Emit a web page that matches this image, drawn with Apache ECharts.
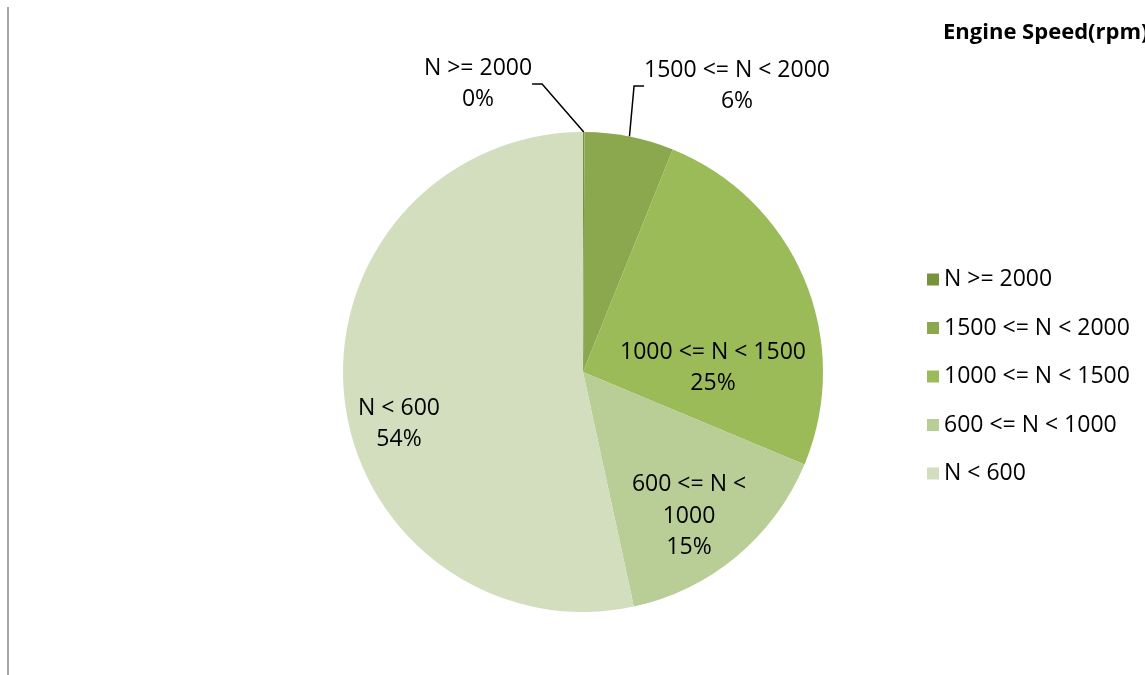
<!DOCTYPE html>
<html>
<head>
<meta charset="utf-8">
<script src="https://cdn.jsdelivr.net/npm/echarts@6/dist/echarts.min.js"></script>
<style>
html,body{margin:0;padding:0;background:#fff;overflow:hidden;}
#chart{width:1145px;height:675px;}
</style>
</head>
<body>
<div id="chart"></div>
<script>
const titleText = 'Engine Speed(rpm)';
const categories = ['N >= 2000', '1500 <= N < 2000', '1000 <= N < 1500', '600 <= N < 1000', 'N < 600'];
const labelTexts = ['N >= 2000', '1500 <= N < 2000', '1000 <= N < 1500', '600 <= N <\n1000', 'N < 600'];
const values = [0.1, 6.0, 25.2, 15.3, 53.4];
const percentLabels = ['0%', '6%', '25%', '15%', '54%'];
const colors = ['#77933C', '#8BA84E', '#9BBB59', '#B9CD96', '#D2DEBE'];

const FONT = '"Open Sans", sans-serif';
const labelPos = [[478, 84], [737, 86], [713, 368], [689, 516], [399, 424]];

const chart = echarts.init(document.getElementById('chart'));
chart.setOption({
  animation: false,
  backgroundColor: '#ffffff',
  title: {
    text: titleText,
    left: 938, top: 17,
    textStyle: {fontFamily: FONT, fontSize: 22, fontWeight: 'bold', color: '#000'}
  },
  legend: {
    orient: 'vertical',
    left: 922, top: 263,
    itemWidth: 12, itemHeight: 12,
    itemGap: 25.5,
    icon: 'rect',
    textStyle: {fontFamily: FONT, fontSize: 23, color: '#000', padding: [0,0,0,0]},
    data: categories
  },
  graphic: [{
    type: 'line', shape: {x1: 8, y1: 7, x2: 8, y2: 675},
    style: {stroke: '#888', lineWidth: 1.5}
  }],
  series: [{
    type: 'pie',
    center: [583, 372],
    radius: 240,
    startAngle: 90,
    clockwise: true,
    avoidLabelOverlap: false,
    percentPrecision: 0,
    itemStyle: {borderWidth: 0},
    emphasis: {disabled: true},
    label: {
      fontFamily: FONT, fontSize: 23, color: '#000', lineHeight: 31.5, align: 'center',
      formatter: p => labelTexts[p.dataIndex] + '\n' + percentLabels[p.dataIndex]
    },
    labelLine: {lineStyle: {color: '#000', width: 1.5}, length: 40, length2: 10},
    labelLayout: function (p) {
      const pos = labelPos[p.dataIndex];
      return {x: pos[0], y: pos[1], align: 'center', verticalAlign: 'middle'};
    },
    data: categories.map((c, i) => ({
      name: c,
      value: values[i],
      itemStyle: {color: colors[i]},
      label: {position: i < 2 ? 'outside' : 'inside'},
      labelLine: {show: i < 2}
    }))
  }]
});
</script>
</body>
</html>
